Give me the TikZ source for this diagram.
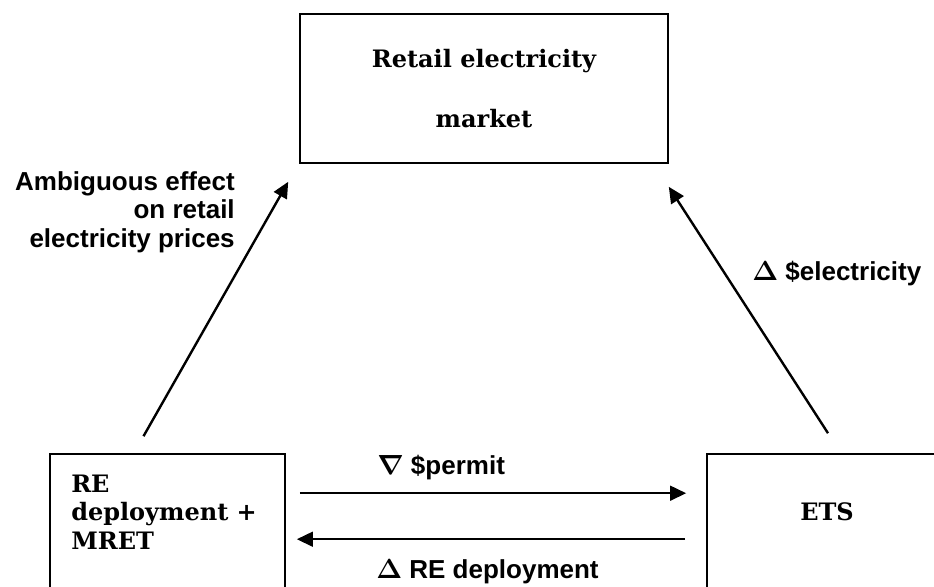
\documentclass[tikz,border=0pt]{standalone}
\usepackage{fontspec}
\setmainfont{DejaVu Serif}
\setsansfont{Liberation Sans}
\usetikzlibrary{arrows.meta}

\tikzset{
  box/.style = {draw, line width=1.2pt, inner sep=0pt},
  boxtext/.style = {font=\rmfamily\bfseries\fontsize{18}{21.4}\selectfont, inner sep=0pt},
  lbl/.style = {font=\sffamily\bfseries\boldmath\fontsize{19.5}{21.5}\selectfont, inner sep=0pt},
  arr/.style = {line width=1.8pt, -{Triangle[length=12pt,width=11pt]}}
}

\begin{document}
\begin{tikzpicture}[x=0.75pt, y=-0.75pt]
\useasboundingbox (0,0) rectangle (934,586);
\clip (0,0) rectangle (934,586);
%boxes
\node[box, minimum width=276pt, minimum height=111.75pt, align=center, font=\rmfamily\bfseries\fontsize{18}{45}\selectfont] (mkt) at (484,88.5) {Retail electricity\\market};
\node[box, minimum width=176.25pt, minimum height=150pt] (re) at (167.5,554) {};
\node[box, minimum width=180pt, minimum height=150pt] (ets) at (827,554) {};
\node[boxtext, align=left, anchor=west] (retxt) at (71,512) {RE\\deployment +\\MRET};
\node[boxtext] (etstxt) at (827,512) {ETS};
%arrows
\draw[arr] ([shift={(-24,-17)}]re.north) -- ([shift={(-11,18)}]mkt.south west);
\draw[arr] ([shift={(1,-20)}]ets.north) -- ([shift={(0,23)}]mkt.south east);
\draw[arr] ([shift={(14,40)}]re.north east) -- ([shift={(-20,40)}]ets.north west);
\draw[arr] ([shift={(-21,86)}]ets.north west) -- ([shift={(11,86)}]re.north east);
%labels
\node[lbl, align=right, anchor=east] (amb) at (235,212) {Ambiguous effect\\on retail\\electricity prices};
\node[lbl, anchor=west] (elec) at (752,274) {$\Delta$ \$electricity};
\node[lbl, anchor=west] (perm) at (377,468) {$\nabla$ \$permit};
\node[lbl, anchor=west] (dep) at (376,572) {$\Delta$ RE deployment};
\end{tikzpicture}
\end{document}
